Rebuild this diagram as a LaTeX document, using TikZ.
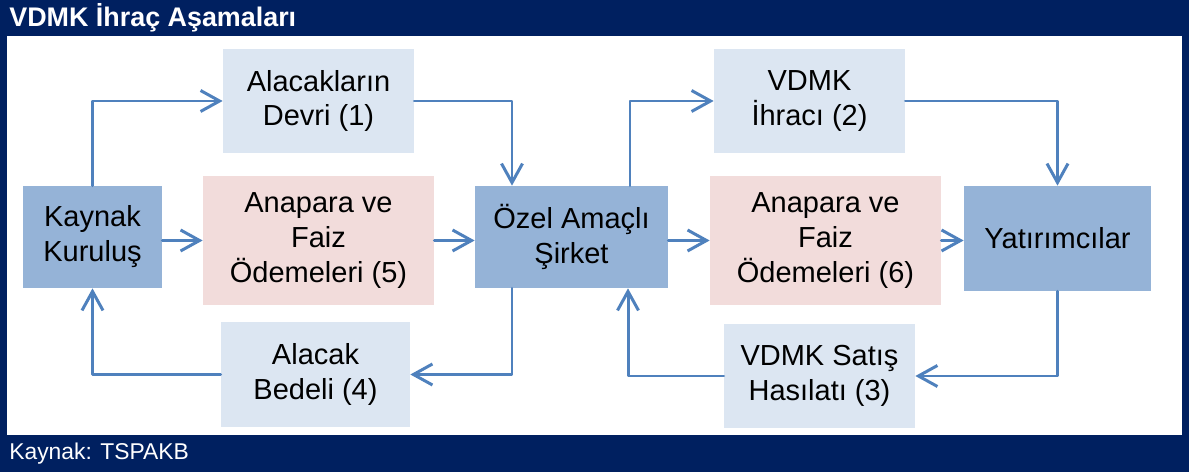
\documentclass[tikz,border=0pt]{standalone}
\usepackage{fontspec}
\setmainfont{Liberation Sans}
\usetikzlibrary{arrows.meta}
\definecolor{navy}{RGB}{0,32,96}
\definecolor{midblue}{RGB}{149,179,215}
\definecolor{paleblue}{RGB}{220,230,242}
\definecolor{palepink}{RGB}{242,220,219}
\definecolor{flowblue}{RGB}{79,129,189}
\begin{document}
\begin{tikzpicture}[line cap=round,line join=round,
  box/.style={inner sep=0pt,align=center,text=black,
    font=\fontsize{16.5}{19.9}\selectfont},
  partybox/.style={box,fill=midblue},
  stepbox/.style={box,fill=paleblue},
  paybox/.style={box,fill=palepink,minimum width=4.62cm,minimum height=2.58cm},
  flow/.style={draw=flowblue,line width=1.7pt,
    -{Straight Barb[length=3.8mm,width=4.2mm]}}]
  % frame
  \useasboundingbox (0,0) rectangle (23.78,9.44);
  \fill[navy] (0,0) rectangle (23.78,9.44);
  \fill[white] (0.14,0.74) rectangle (23.64,8.72);
  \node[anchor=west,inner sep=0pt,text=white,font=\fontsize{15.3}{17}\selectfont\bfseries]
    (title) at (0.18,9.08) {VDMK İhraç Aşamaları};
  \node[anchor=west,inner sep=0pt,text=white,font=\fontsize{13}{15}\selectfont]
    (source) at (0.18,0.37) {Kaynak: TSPAKB};
  % parties
  \node[partybox,minimum width=2.78cm,minimum height=2.04cm] (kaynak) at (1.85,4.70) {Kaynak\\Kuruluş};
  \node[partybox,minimum width=3.86cm,minimum height=2.04cm] (ozel) at (11.43,4.70) {Özel Amaçlı\\Şirket};
  \node[partybox,minimum width=3.74cm,minimum height=2.10cm] (yatirim) at (21.15,4.67) {Yatırımcılar};
  % steps
  \node[stepbox,minimum width=3.82cm,minimum height=2.08cm] (devri) at (6.37,7.42) {Alacakların\\Devri (1)};
  \node[stepbox,minimum width=3.82cm,minimum height=2.08cm] (ihrac) at (16.19,7.42) {VDMK\\İhracı (2)};
  \node[stepbox,minimum width=3.82cm,minimum height=2.08cm] (satis) at (16.39,1.92) {VDMK Satış\\Hasılatı (3)};
  \node[stepbox,minimum width=3.78cm,minimum height=2.10cm] (bedel) at (6.31,1.95) {Alacak\\Bedeli (4)};
  \node[paybox] (odeme5) at (6.37,4.63) {Anapara ve\\Faiz\\Ödemeleri (5)};
  \node[paybox] (odeme6) at (16.51,4.63) {Anapara ve\\Faiz\\Ödemeleri (6)};
  % connectors
  \draw[flow] (kaynak.north) |- (devri.west);
  \draw[flow] (devri.east) -| ([xshift=-1.19cm]ozel.north);
  \draw[flow] (kaynak.east |- odeme5.west) -- (odeme5.west);
  \draw[flow] (odeme5.east) -- (odeme5.east -| ozel.west);
  \draw[flow] (ozel.east |- odeme6.west) -- (odeme6.west);
  \draw[flow] (odeme6.east) -- (odeme6.east -| yatirim.west);
  \draw[flow] ([xshift=1.17cm]ozel.north) |- (ihrac.west);
  \draw[flow] (ihrac.east) -| (yatirim.north);
  \draw[flow] (yatirim.south) |- (satis.east);
  \draw[flow] (satis.west) -| ([xshift=1.13cm]ozel.south);
  \draw[flow] ([xshift=-1.19cm]ozel.south) |- (bedel.east);
  \draw[flow] (bedel.west) -| (kaynak.south);
\end{tikzpicture}
\end{document}
